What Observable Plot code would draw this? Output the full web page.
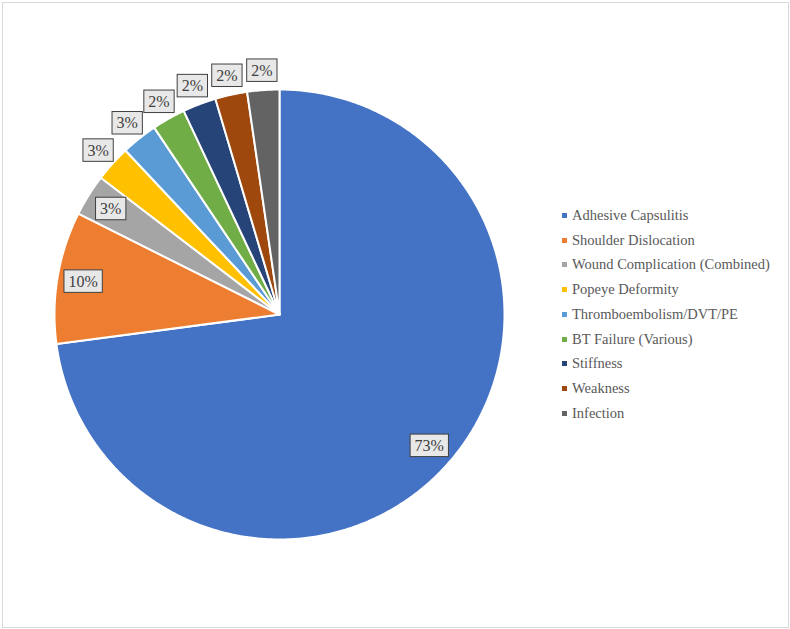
<!DOCTYPE html>
<html>
<head>
<meta charset="utf-8">
<script src="https://cdn.jsdelivr.net/npm/d3@7"></script>
<script src="https://cdn.jsdelivr.net/npm/@observablehq/plot@0.6"></script>
<style>
  body { margin: 0; background: #fff; }
  #wrap { position: relative; width: 790px; height: 629px; font-family: "Liberation Serif", "Times New Roman", serif; }
  #legend { position: absolute; left: 562px; top: 203px; font-size: 14.5px; color: #595959; }
  #legend .row { height: 24.75px; display: flex; align-items: center; white-space: nowrap; }
  #legend .sw { width: 5px; height: 5px; margin-right: 5px; flex: none; }
</style>
</head>
<body>
<div id="wrap"></div>
<script>
const categories = [
  "Adhesive Capsulitis",
  "Shoulder Dislocation",
  "Wound Complication (Combined)",
  "Popeye Deformity",
  "Thromboembolism/DVT/PE",
  "BT Failure (Various)",
  "Stiffness",
  "Weakness",
  "Infection"
];
const values = [72.9, 9.5, 3.0, 2.6, 2.6, 2.4, 2.4, 2.3, 2.3];
const colors = ["#4472C4", "#ED7D31", "#A5A5A5", "#FFC000", "#5B9BD5", "#70AD47", "#264478", "#9E480E", "#636363"];

// Build slice outlines on the unit circle (angles clockwise from 12 o'clock)
const total = d3.sum(values);
const slices = [];
const labels = [];
let start = 0;
categories.forEach((cat, i) => {
  const a0 = start / total * 2 * Math.PI;
  const a1 = (start + values[i]) / total * 2 * Math.PI;
  start += values[i];
  slices.push({cat, x: 0, y: 0});
  const n = Math.max(2, Math.ceil((a1 - a0) / (Math.PI / 360)));
  for (let k = 0; k <= n; k++) {
    const a = a0 + (a1 - a0) * k / n;
    slices.push({cat, x: Math.sin(a), y: Math.cos(a)});
  }
  slices.push({cat, x: 0, y: 0});
  const mid = (a0 + a1) / 2;
  const pct = values[i] / total * 100;
  const r = pct >= 3 ? 0.885 : 1.087;
  labels.push({cat, x: r * Math.sin(mid), y: r * Math.cos(mid), text: Math.round(pct) + "%"});
});

const chart = Plot.plot({
  width: 790,
  height: 629,
  marginTop: 2, marginLeft: 2, marginRight: 2, marginBottom: 2,
  x: {domain: [-1, 1], range: [54, 504], axis: null},
  y: {domain: [-1, 1], range: [539, 89], axis: null},
  color: {domain: categories, range: colors},
  style: {fontFamily: '"Liberation Serif", "Times New Roman", serif', background: "#fff"},
  marks: [
    Plot.frame({stroke: "#d9d9d9", strokeWidth: 1}),
    Plot.line(slices, {x: "x", y: "y", z: "cat", fill: "cat", stroke: "#fff", strokeWidth: 2, strokeLinejoin: "round"}),
    Plot.text(labels, {x: "x", y: "y", text: "text", fontSize: 16, fill: "#404040", className: "pie-label"})
  ]
});

const wrap = document.getElementById("wrap");
wrap.appendChild(chart);

// Boxes behind the data labels
d3.select(chart).selectAll(".pie-label text").each(function() {
  const b = this.getBBox();
  const padX = 4.5, h = 22.5;
  d3.select(this.parentNode).insert("rect", () => this)
    .attr("x", b.x - padX).attr("y", b.y + b.height / 2 - h / 2)
    .attr("width", b.width + 2 * padX).attr("height", h)
    .attr("transform", this.getAttribute("transform"))
    .attr("fill", "#e8e8e8").attr("stroke", "#404040").attr("stroke-width", 1);
});

// Legend
const legend = document.createElement("div");
legend.id = "legend";
categories.forEach((c, i) => {
  const row = document.createElement("div");
  row.className = "row";
  const sw = document.createElement("span");
  sw.className = "sw";
  sw.style.background = colors[i];
  const t = document.createElement("span");
  t.textContent = c;
  row.appendChild(sw);
  row.appendChild(t);
  legend.appendChild(row);
});
wrap.appendChild(legend);
</script>
</body>
</html>
